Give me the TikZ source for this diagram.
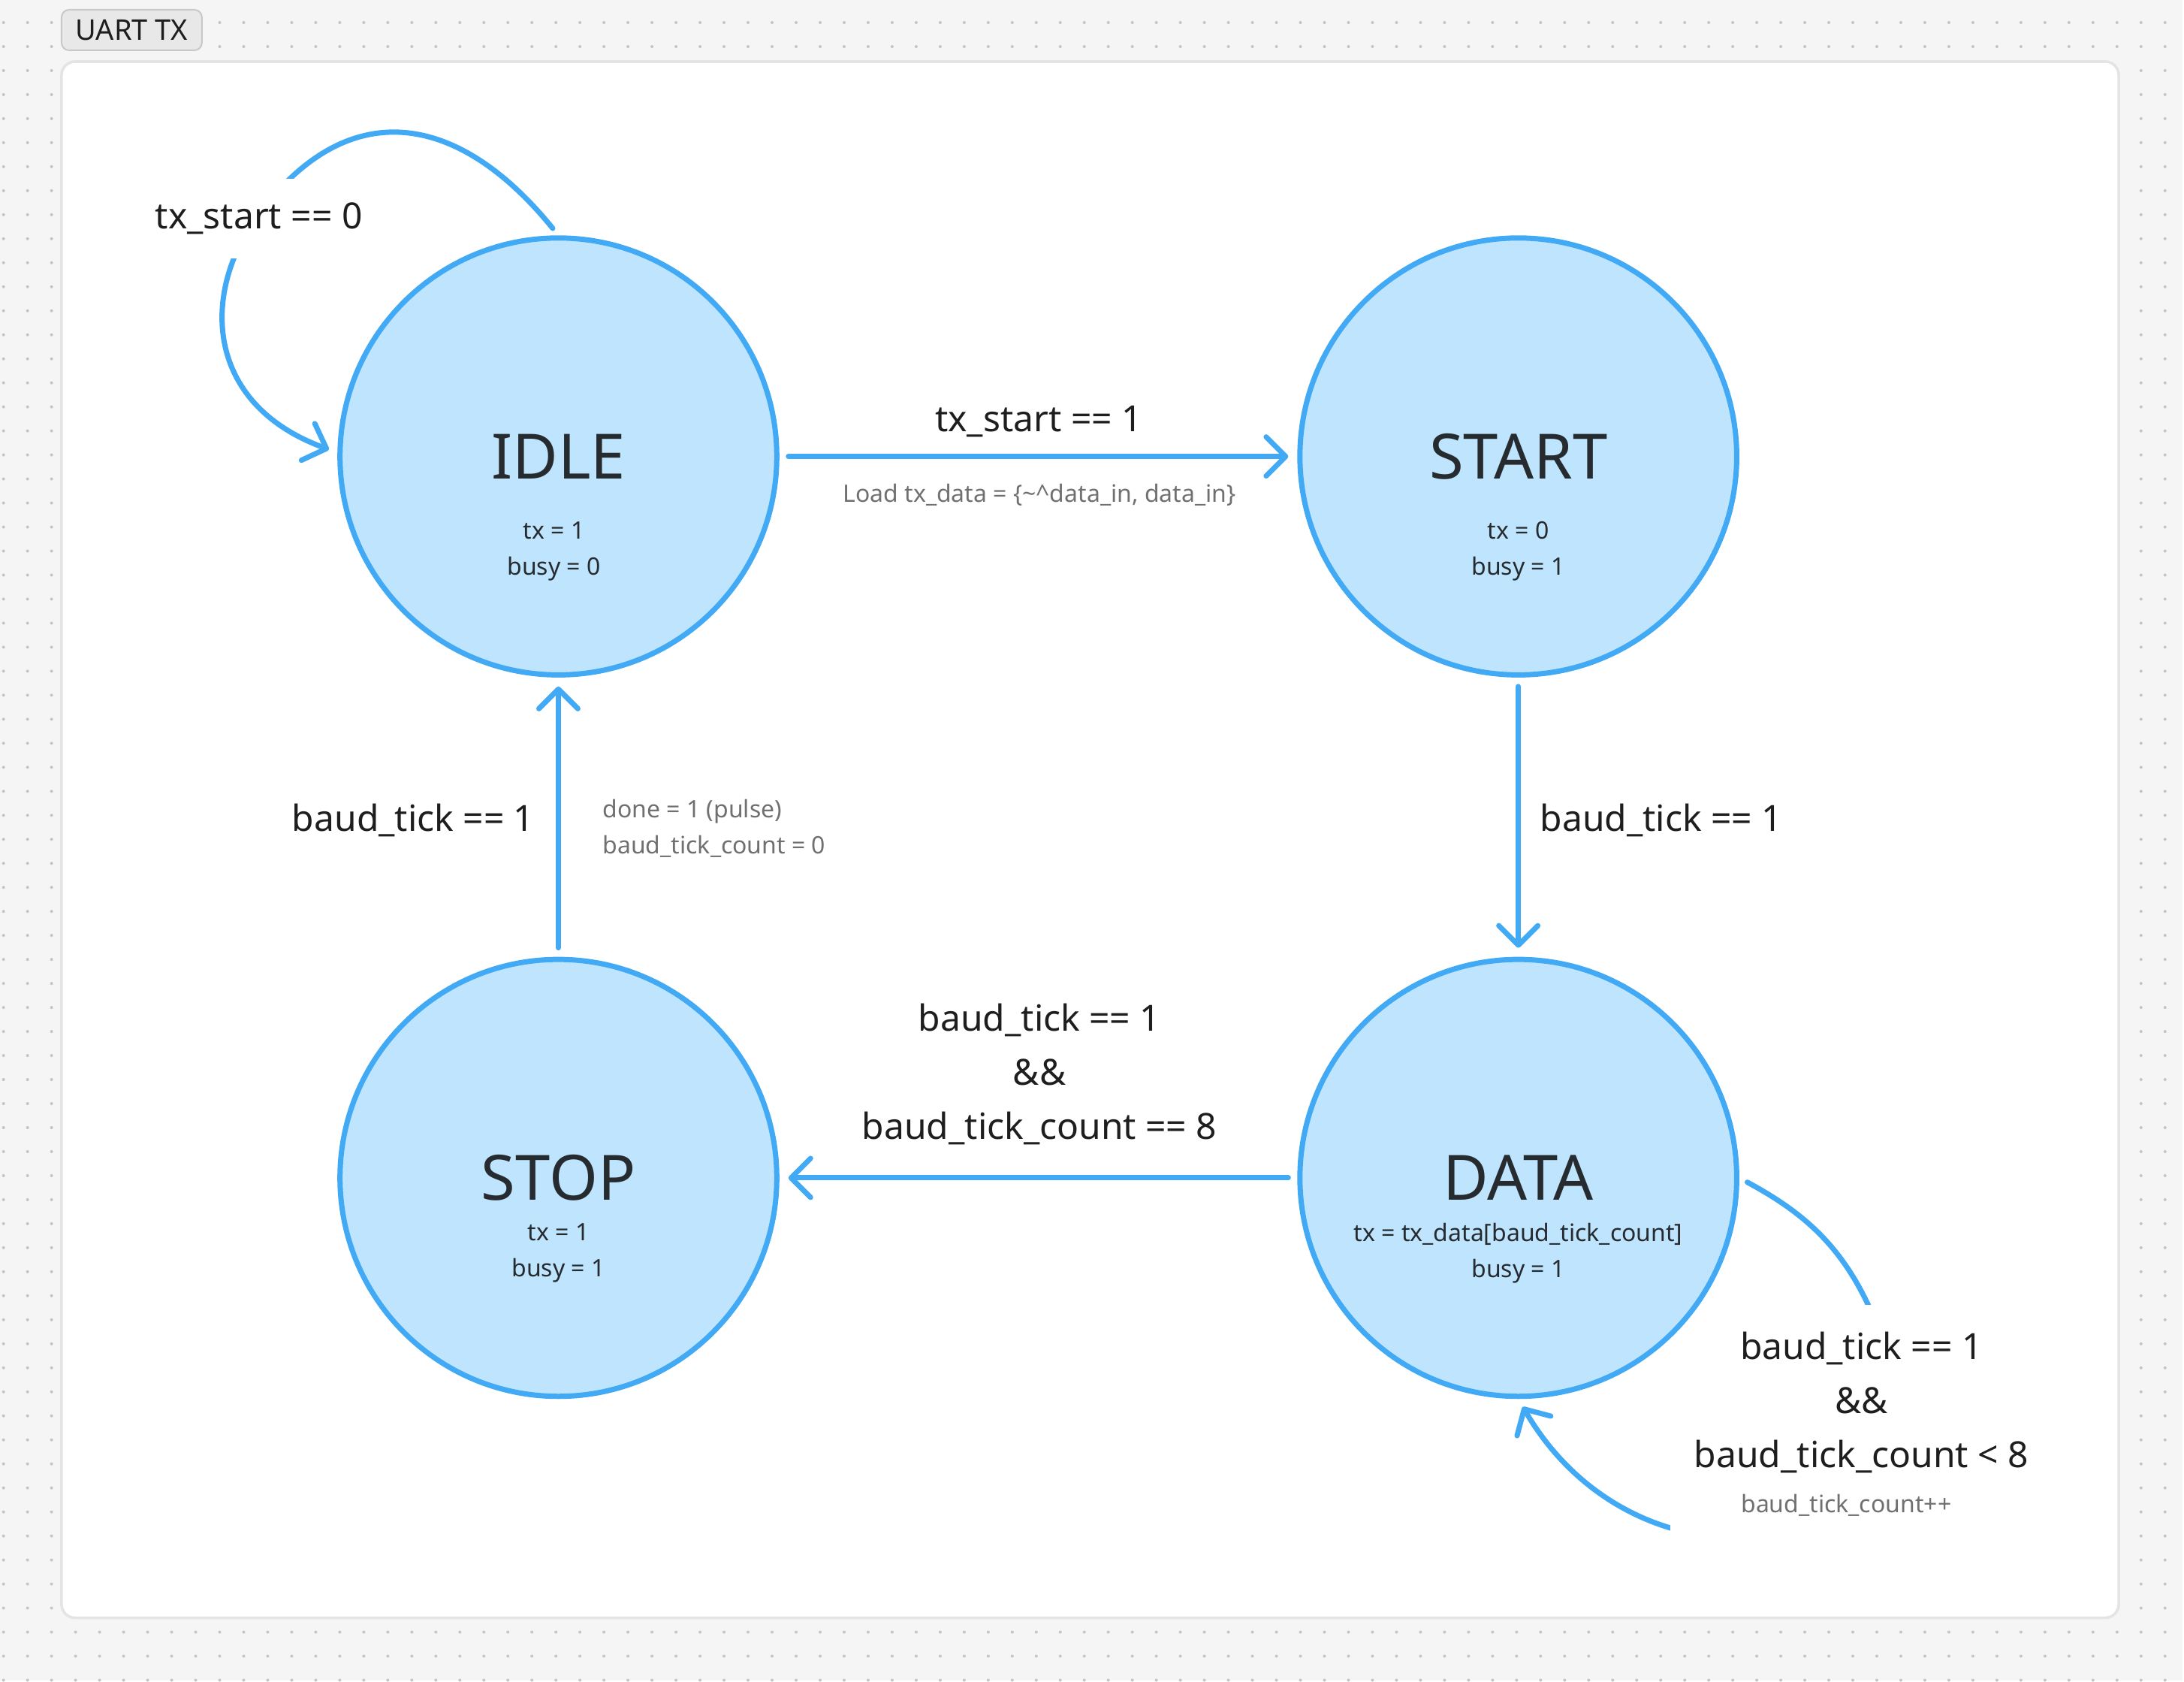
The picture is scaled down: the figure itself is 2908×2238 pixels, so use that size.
\documentclass[tikz,border=0pt]{standalone}
\usepackage{fontspec}
\setmainfont{Noto Sans}
\usetikzlibrary{arrows.meta}

\definecolor{edgeblue}{RGB}{66,170,245}
\definecolor{stateblue}{RGB}{191,228,253}
\definecolor{canvasgray}{RGB}{245,245,245}
\definecolor{dotgray}{RGB}{196,196,196}
\definecolor{panelline}{RGB}{228,228,228}
\definecolor{tagfill}{RGB}{232,232,232}
\definecolor{tagline}{RGB}{200,200,200}
\definecolor{titleink}{RGB}{38,43,48}
\definecolor{labelink}{RGB}{30,30,30}
\definecolor{noteink}{RGB}{112,112,112}

\pgfdeclarelayer{canvas}
\pgfdeclarelayer{loops}
\pgfsetlayers{canvas,loops,main}

\begin{document}
\begin{tikzpicture}[
    x=0.25pt, y=-0.25pt,
    state/.style={circle, draw=edgeblue, fill=stateblue, line width=1.75pt, minimum size=145.5pt, inner sep=0pt, text=titleink, font=\fontsize{20.8pt}{24pt}\selectfont},
    info/.style={align=center, text=titleink, font=\fontsize{8pt}{12pt}\selectfont},
    cond/.style={align=center, text=labelink, font=\fontsize{12pt}{18pt}\selectfont},
    action/.style={text=noteink, font=\fontsize{8pt}{12pt}\selectfont},
    labelmask/.style={fill=white, inner sep=8pt},
    trans/.style={draw=edgeblue, line width=1.75pt, line cap=round, -{Straight Barb[length=6.5pt,width=13pt,round]}, shorten >=3pt, shorten <=3pt},
    dotrow/.style={dotgray, line width=1pt, line cap=round, dash pattern=on 0pt off 8pt}
]

% Canvas
\begin{pgfonlayer}{canvas}
\fill[canvasgray] (0,0) rectangle (2908,2238);
\foreach \k in {0,...,69} {
    \draw[dotrow] (4.7,{30+32*\k}) -- (2908,{30+32*\k});
}
\draw[panelline, fill=white, line width=0.9pt, rounded corners=4.5pt] (82,82) rectangle (2823,2155);
\node[draw=tagline, fill=tagfill, line width=0.5pt, rounded corners=2.5pt, minimum width=46.75pt, minimum height=13.5pt, inner sep=0pt, text=labelink, font=\fontsize{9.5pt}{11pt}\selectfont] (tag) at (175.5,40) {UART TX};
\end{pgfonlayer}
\useasboundingbox (0,0) rectangle (2908,2238);

% States
\node[state] (idle) at (744,608) {IDLE};
\node[state] (start) at (2023,608) {START};
\node[state] (stop) at (744,1569) {STOP};
\node[state] (data) at (2023,1569) {DATA};

\node[info] (idleout) at (738,734) {tx = 1\\busy = 0};
\node[info] (startout) at (2023,734) {tx = 0\\busy = 1};
\node[info] (stopout) at (744,1669) {tx = 1\\busy = 1};
\node[info] (dataout) at (2023,1669) {tx = tx\_data[baud\_tick\_count]\\busy = 1};

% Transitions
\draw[trans] (idle) -- (start);
\draw[trans] (start) -- (data);
\draw[trans] (data) -- (stop);
\draw[trans] (stop) -- (idle);

\node[cond, anchor=base] (c01) at (1384,575) {tx\_start == 1};
\node[action, anchor=base] (a01) at (1385,669) {Load tx\_data = \{\textasciitilde\textasciicircum data\_in, data\_in\}};
\node[cond, anchor=base west] (c12) at (2038,1107) {baud\_tick == 1};
\node[cond] (c23) at (1385,1431) {baud\_tick == 1\\\&\&\\baud\_tick\_count == 8};
\node[cond, anchor=base east] (c30) at (726,1107) {baud\_tick == 1};
\node[action, align=left, anchor=west] (a30) at (789,1104) {done = 1 (pulse)\\baud\_tick\_count = 0};

% Self loops, under the states
\begin{pgfonlayer}{loops}
\draw[trans] (idle.north) .. controls (615,154) and (468,121) .. (345,285)
    .. controls (267,389) and (272,538) .. (idle.179);
\draw[trans] (data.east) .. controls (2397,1612) and (2450,1654) .. (2490,1740)
    .. controls (2641,2068) and (2198,2165) .. (data.south);
\node[cond, labelmask, anchor=base] (c00) at (345,305) {tx\_start == 0};
\node[cond, labelmask, inner ysep=9pt] (c22) at (2480,1897) {baud\_tick == 1\\\&\&\\baud\_tick\_count < 8\\[-3pt]{\color{noteink}\fontsize{8pt}{12pt}\selectfont baud\_tick\_count++\hspace*{10pt}}};
\end{pgfonlayer}

\end{tikzpicture}
\end{document}
